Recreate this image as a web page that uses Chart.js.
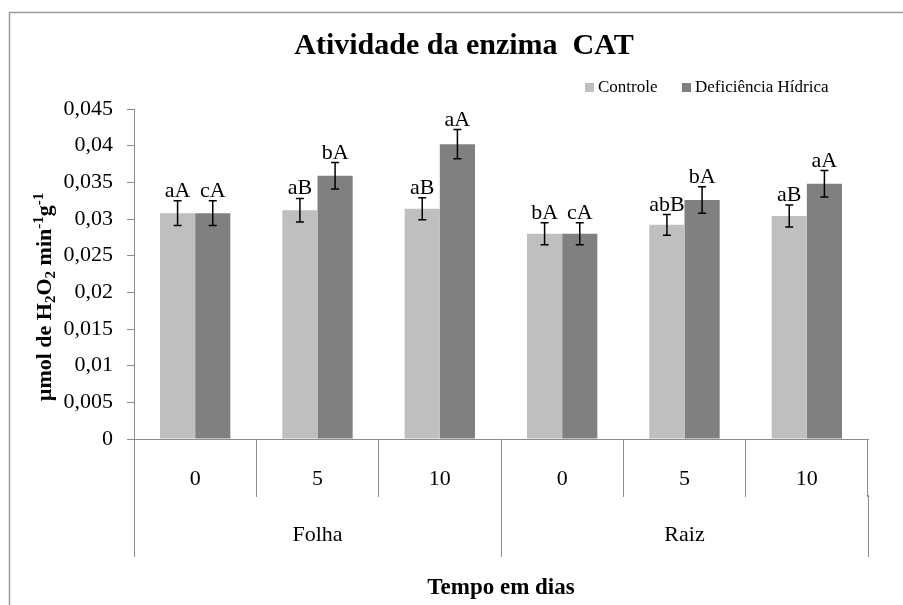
<!DOCTYPE html>
<html>
<head>
<meta charset="utf-8">
<script src="https://cdn.jsdelivr.net/npm/chart.js@4/dist/chart.umd.min.js"></script>
<style>
  body { margin: 0; background: #fff; }
  #caixa { width: 903px; height: 605px; position: relative; }
</style>
</head>
<body>
<div id="caixa"><canvas id="graficoCAT"></canvas></div>
<script>
// dados do grafico
const dias = ['0', '5', '10', '0', '5', '10'];
const orgaos = ['Folha', 'Raiz'];
const controle = [0.0308, 0.0312, 0.0314, 0.0280, 0.0292, 0.0304];
const deficiencia = [0.0308, 0.0359, 0.0402, 0.0280, 0.0326, 0.0348];
const erroControle = [0.0017, 0.0016, 0.0015, 0.0015, 0.0014, 0.0015];
const erroDeficiencia = [0.0017, 0.0018, 0.0020, 0.0015, 0.0018, 0.0018];
const letrasControle = ['aA', 'aB', 'aB', 'bA', 'abB', 'aB'];
const letrasDeficiencia = ['cA', 'bA', 'aA', 'cA', 'bA', 'aA'];
const nomesSeries = ['Controle', 'Deficiência Hídrica'];
const coresSeries = ['#bfbfbf', '#808080'];

const fonte = "'Liberation Serif', 'Times New Roman', serif";
const cinza = '#8c8c8c';

Chart.defaults.font.family = fonte;
Chart.defaults.color = '#000';

// barras de erro + letras em cima
const extrasBarras = {
  id: 'extrasBarras',
  afterDatasetsDraw(chart) {
    const ctx = chart.ctx;
    const y = chart.scales.y;
    const erros = [erroControle, erroDeficiencia];
    const letras = [letrasControle, letrasDeficiencia];
    ctx.save();
    chart.data.datasets.forEach((ds, di) => {
      chart.getDatasetMeta(di).data.forEach((bar, i) => {
        const v = ds.data[i], e = erros[di][i];
        const yTop = y.getPixelForValue(v + e);
        const yBot = y.getPixelForValue(v - e);
        ctx.strokeStyle = '#000';
        ctx.lineWidth = 1.5;
        ctx.beginPath();
        ctx.moveTo(bar.x, yTop); ctx.lineTo(bar.x, yBot);
        ctx.moveTo(bar.x - 4, yTop); ctx.lineTo(bar.x + 4, yTop);
        ctx.moveTo(bar.x - 4, yBot); ctx.lineTo(bar.x + 4, yBot);
        ctx.stroke();
        ctx.fillStyle = '#000';
        ctx.font = '22px ' + fonte;
        ctx.textAlign = 'center';
        ctx.textBaseline = 'alphabetic';
        ctx.fillText(letras[di][i], bar.x, yTop - 4);
      });
    });
    ctx.restore();
  }
};

// moldura, titulo, legenda, eixo y e o segundo nivel do eixo x
const decoracao = {
  id: 'decoracao',
  afterDraw(chart) {
    const ctx = chart.ctx;
    const area = chart.chartArea;
    const x = chart.scales.x;
    ctx.save();

    // moldura
    ctx.strokeStyle = '#9a9a9a';
    ctx.lineWidth = 1.5;
    ctx.strokeRect(9.5, 12.5, 1000, 1000);

    // titulo
    ctx.fillStyle = '#000';
    ctx.textAlign = 'center';
    ctx.textBaseline = 'middle';
    ctx.font = 'bold 30px ' + fonte;
    ctx.fillText('Atividade da enzima  CAT', 464, 46);

    // legenda
    ctx.font = '17px ' + fonte;
    ctx.textAlign = 'left';
    const legX = [585, 682];
    nomesSeries.forEach((n, i) => {
      ctx.fillStyle = coresSeries[i];
      ctx.fillRect(legX[i], 83, 9, 9);
      ctx.fillStyle = '#000';
      ctx.fillText(n, legX[i] + 13, 88);
    });

    // titulo do eixo y com subscritos e sobrescritos
    const partes = [
      ['µmol de H', 0], ['2', 1], ['O', 0], ['2', 1], [' min', 0], ['-1', 2], ['g', 0], ['-1', 2]
    ];
    const fN = 'bold 22px ' + fonte, fP = 'bold 15px ' + fonte;
    let total = 0;
    partes.forEach(p => { ctx.font = p[1] ? fP : fN; total += ctx.measureText(p[0]).width; });
    ctx.translate(44, 297);
    ctx.rotate(-Math.PI / 2);
    ctx.textBaseline = 'alphabetic';
    let px = -total / 2;
    partes.forEach(p => {
      ctx.font = p[1] ? fP : fN;
      const dy = p[1] === 1 ? 4 : (p[1] === 2 ? -8 : 0);
      ctx.fillText(p[0], px, 7 + dy);
      px += ctx.measureText(p[0]).width;
    });
    ctx.setTransform(1, 0, 0, 1, 0, 0);

    // segundo nivel: Folha / Raiz
    const meio = dias.length / orgaos.length;
    const passo = x.getPixelForValue(1) - x.getPixelForValue(0);
    const topo = x.bottom;
    ctx.strokeStyle = cinza;
    ctx.lineWidth = 1;
    ctx.beginPath();
    for (let g = 0; g <= orgaos.length; g++) {
      const gx = Math.round(x.getPixelForValue(g * meio) - passo / 2) + 0.5;
      ctx.moveTo(gx, topo - 2); ctx.lineTo(gx, topo + 60);
    }
    ctx.stroke();
    ctx.font = '22px ' + fonte;
    ctx.textAlign = 'center';
    ctx.textBaseline = 'middle';
    orgaos.forEach((o, g) => {
      const cx = (x.getPixelForValue(g * meio) + x.getPixelForValue(g * meio + meio - 1)) / 2;
      ctx.fillText(o, cx, topo + 38);
    });

    // titulo do eixo x
    ctx.font = 'bold 23px ' + fonte;
    ctx.fillText('Tempo em dias', (area.left + area.right) / 2, 588);
    ctx.restore();
  }
};

const ctx = document.getElementById('graficoCAT').getContext('2d');
new Chart(ctx, {
  type: 'bar',
  data: {
    labels: dias,
    datasets: [
      { label: nomesSeries[0], data: controle, backgroundColor: coresSeries[0] },
      { label: nomesSeries[1], data: deficiencia, backgroundColor: coresSeries[1] }
    ]
  },
  options: {
    responsive: true,
    maintainAspectRatio: false,
    animation: false,
    datasets: { bar: { categoryPercentage: 0.575, barPercentage: 1 } },
    layout: { padding: { left: 54, right: 35, top: 109, bottom: 108 } },
    plugins: { legend: { display: false }, title: { display: false }, tooltip: { enabled: false } },
    scales: {
      y: {
        min: 0, max: 0.045,
        afterFit: s => { s.width = 80; },
        ticks: {
          stepSize: 0.005, padding: 14, font: { size: 22 },
          callback: v => parseFloat(v.toFixed(3)).toString().replace('.', ',')
        },
        grid: { drawOnChartArea: false, tickLength: 7, color: cinza },
        border: { color: cinza }
      },
      x: {
        afterFit: s => { s.height = 58; },
        ticks: { padding: -31, font: { size: 22 } },
        grid: { offset: true, drawOnChartArea: false, tickLength: 58, color: cinza },
        border: { color: cinza }
      }
    }
  },
  plugins: [extrasBarras, decoracao]
});
</script>
</body>
</html>
